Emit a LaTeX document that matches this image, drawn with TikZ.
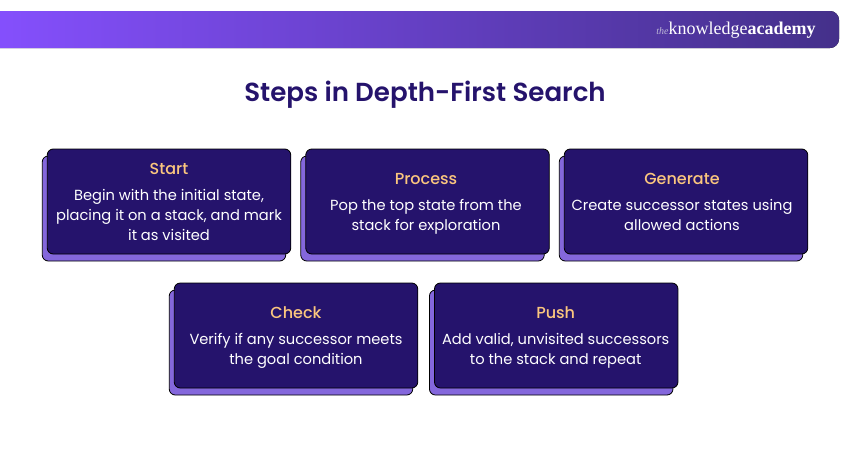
\documentclass[tikz,border=0pt]{standalone}
\usepackage{fontspec}
\setmainfont{Poppins}
\newfontfamily\mediumfont{Poppins Medium}
\newfontfamily\semifont{Poppins SemiBold}
\newfontfamily\logofont{Liberation Serif}
\usetikzlibrary{positioning}
\usetikzlibrary{backgrounds}
\definecolor{navy}{HTML}{25136C}
\definecolor{lilac}{HTML}{8467DC}
\definecolor{peach}{HTML}{FBC67E}
\definecolor{bannerleft}{HTML}{8650FF}
\definecolor{bannerright}{HTML}{44308A}
\tikzstyle{card}=[draw=black,fill=navy,rounded corners=6pt,line width=0.8pt,minimum width=243.5pt,minimum height=105pt,inner sep=0pt]
\tikzstyle{cardback}=[card,fill=lilac]
\tikzstyle{cardtext}=[inner sep=0pt,align=center,text=white,font=\fontsize{14.65}{20}\selectfont]
\newcommand{\cardhead}[1]{{\mediumfont\fontsize{16}{20}\selectfont\textcolor{peach}{#1}\strut}\\[6.5pt]}

\begin{document}
\begin{tikzpicture}[x=1pt,y=-1pt]
\useasboundingbox (0,0) rectangle (850,450);
\fill[left color=bannerleft,right color=bannerright,rounded corners=9pt]
  (-20,11) -- (839,11) -- (839,48) -- (-20,48) -- cycle;
\node[text=white,inner sep=0pt,font=\logofont\fontsize{18}{20}\selectfont] (logo) at (736,30)
  {{\fontsize{10}{10}\selectfont\itshape\color{white!65!bannerright}the}knowledge\textbf{academy}};
\node[text=navy,inner sep=0pt,font=\semifont\fontsize{26.1}{32}\selectfont] (title) at (425,94.5) {Steps in Depth-First Search};

\node[card] (start) at (169,201.5) {};
\node[card,right=14.2pt of start] (process) {};
\node[card,right=14.2pt of process] (generate) {};
\node[card] (check) at (296,335.5) {};
\node[card,right=15.9pt of check] (push) {};

\begin{scope}[on background layer]
\foreach \n in {start,process,generate,check,push}
  \node[cardback] (\n back) at ([xshift=-5pt,yshift=-7pt]\n.center) {};
\end{scope}

\node[cardtext] (starttext) at ([yshift=-2pt]start.center) {\cardhead{Start}Begin with the initial state,\\placing it on a stack, and mark\\it as visited\strut};
\node[cardtext] (processtext) at ([xshift=-1.5pt,yshift=-2pt]process.center) {\cardhead{Process}Pop the top state from the\\stack for exploration\strut};
\node[cardtext] (generatetext) at ([xshift=-4pt,yshift=-2pt]generate.center) {\cardhead{Generate}Create successor states using\\allowed actions\strut};
\node[cardtext] (checktext) at ([yshift=-2pt]check.center) {\cardhead{Check}Verify if any successor meets\\the goal condition\strut};
\node[cardtext] (pushtext) at ([xshift=-0.5pt,yshift=-2pt]push.center) {\cardhead{Push}Add valid, unvisited successors\\to the stack and repeat\strut};
\end{tikzpicture}
\end{document}
